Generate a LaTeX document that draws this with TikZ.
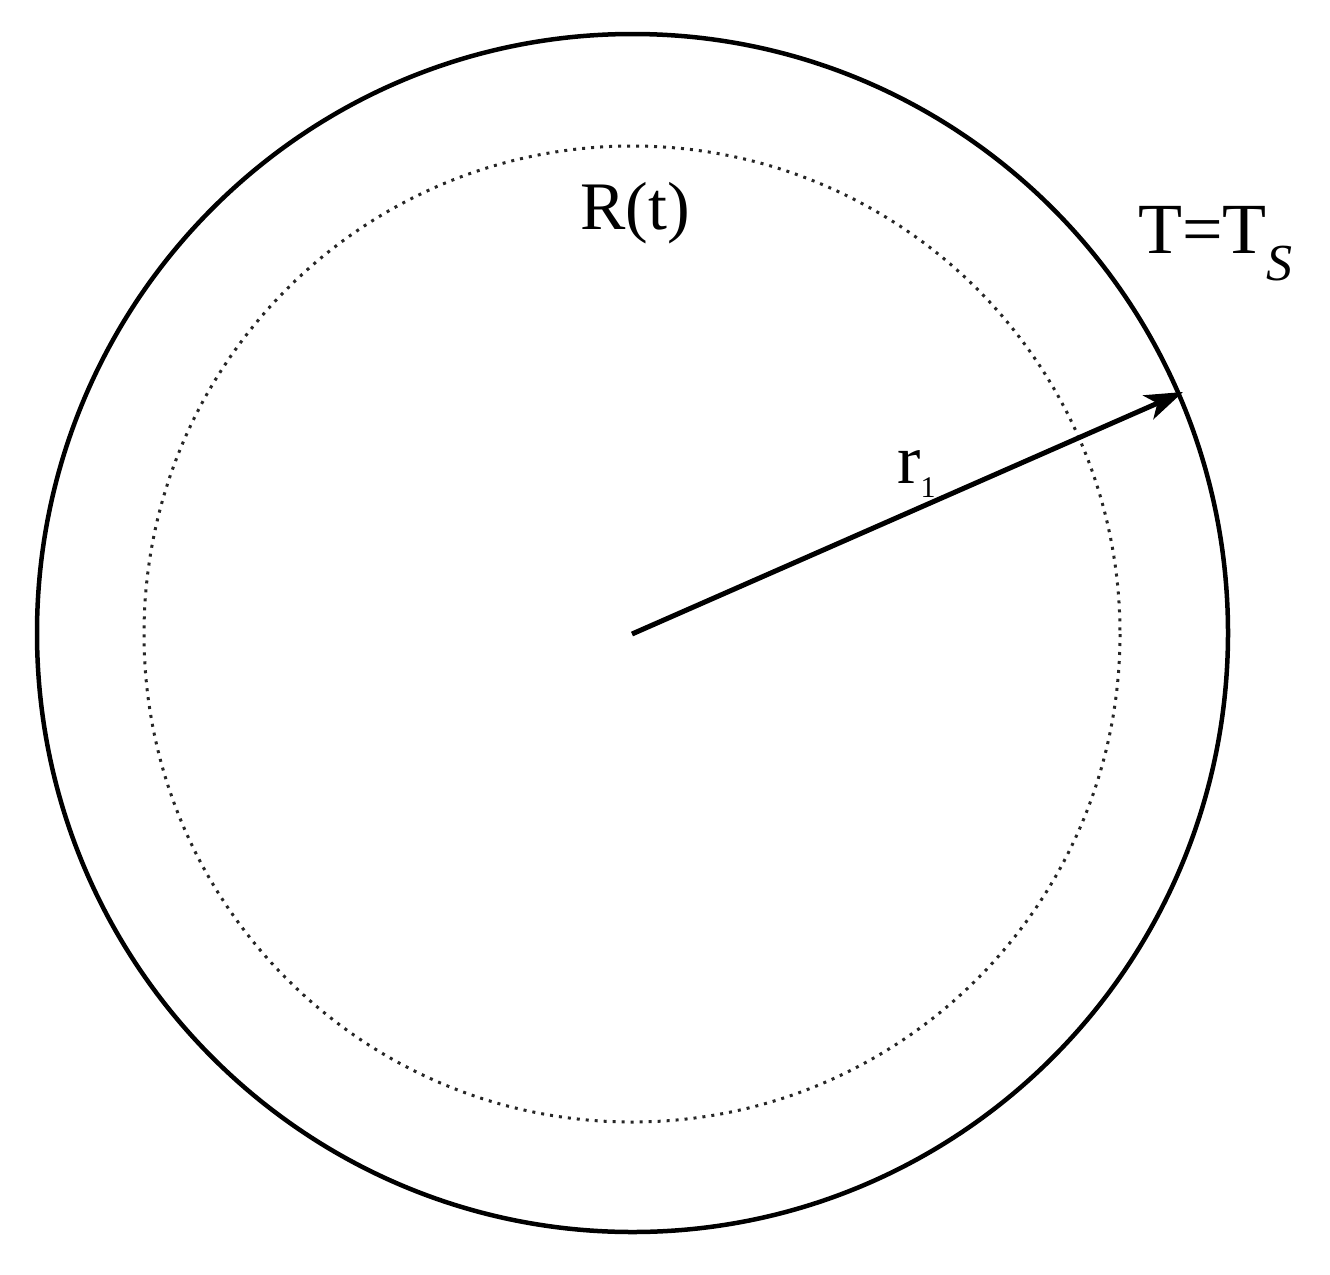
\documentclass[tikz,border=0pt]{standalone}
\usepackage{fontspec}
\setmainfont{Liberation Serif}
\usetikzlibrary{arrows.meta}
\tikzset{
  outer/.style={line width=4.5pt, black},
  inner/.style={line width=3pt, black!85, dash pattern=on 3pt off 6pt},
  radius arrow/.style={line width=5pt, -{Stealth[length=38pt,width=26pt,inset=10pt]}, shorten >=0pt},
  lbl/.style={inner sep=0pt, anchor=base}
}
\begin{document}
\begin{tikzpicture}[x=1pt,y=-1pt]
\useasboundingbox (0,0) rectangle (1330,1274);
\coordinate (c) at (632,634);
\draw[outer] (632.5,633) ellipse [x radius=595.5, y radius=599];
\draw[inner] (c) circle [radius=488];
\coordinate (tip) at (1183,392);
\draw[radius arrow] (c) -- (tip);
\node[lbl] (rt) at (635,229) {\fontsize{68}{70}\selectfont R(t)};
\node[lbl, anchor=base west] (ts) at (1138,253) {\fontsize{72}{74}\selectfont T=T\raisebox{-0.38em}{\fontsize{52}{54}\selectfont\itshape S}};
\node[lbl, anchor=base west] (r1) at (897,483) {\fontsize{70}{72}\selectfont r\raisebox{-0.2em}{\fontsize{30}{32}\selectfont 1}};
\end{tikzpicture}
\end{document}
